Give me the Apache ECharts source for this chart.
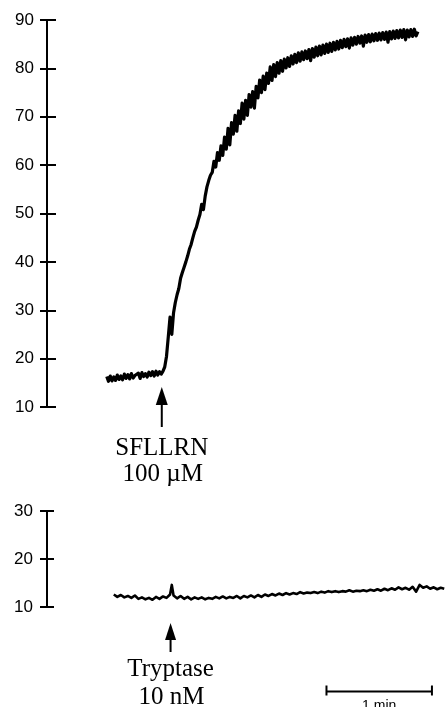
<!DOCTYPE html>
<html><head><meta charset="utf-8">
<script src="https://cdn.jsdelivr.net/npm/echarts@6/dist/echarts.min.js"></script>
<style>html,body{margin:0;padding:0;background:#fff}#c{width:446px;height:707px}</style>
</head><body><div id="c"></div>
<script>
// time in seconds, value in the chart's units
const topTimes = [34,35,36,37,38,39,40,41,42,43,44,45,46,47,48,49,50,51,52,53,54,55,56,57,58,59,60,61,62,63,64,65,66,
67,68,69,70,71,72,73,74,75,76,77,78,79,80,81,82,83,84,85,86,87,88,89,90,
91,92,93,94,95,96,97,98,99,100,101,102,103,104,105,106,107,108,109,110,
111,112,113,114,115,116,117,118,119,120,121,122,123,124,125,126,127,128,129,130,
131,132,133,134,135,136,137,138,139,140,141,142,143,144,145,146,147,148,149,150,
151,152,153,154,155,156,157,158,159,160,161,162,163,164,165,166,167,168,169,170,
171,172,173,174,175,176,177,178,179,180,181,182,183,184,185,186,187,188,189,190,
191,192,193,194,195,196,197,198,199,200,201,202,203,204,205,206,207,208,209,210,211];
const topValues = [16.3,15.3,16.4,15.4,16.2,15.5,16.6,15.7,16.4,15.6,16.8,15.9,16.7,15.8,16.9,16.0,16.5,16.2,17.0,15.9,17.1,16.3,16.9,16.2,17.2,16.5,17.3,16.4,17.4,16.6,17.3,16.8,17.4,
18.3,20.5,24.5,28.6,25.0,29.5,31.6,33.2,34.5,36.6,37.8,38.9,40.0,41.2,42.6,43.6,45.0,46.3,47.2,48.6,49.8,51.9,50.8,53.6,
55.5,56.8,57.9,58.5,60.8,59.6,62.6,61.0,64.0,62.0,
65.8,63.3,67.6,64.2,68.8,66.4,70.3,67.0,71.2,68.6,
72.8,69.5,73.4,70.3,74.6,72.0,75.2,71.8,76.3,73.9,
77.6,75.0,78.4,75.6,79.0,76.9,80.3,77.5,80.8,78.3,
81.2,79.0,81.6,79.4,81.9,80.1,82.2,80.4,82.6,80.9,
82.9,81.2,83.2,81.5,83.4,81.8,83.6,82.0,83.9,81.6,
84.1,82.3,84.4,82.6,84.6,82.8,84.8,83.1,85.0,83.3,
85.2,83.5,85.4,83.8,85.6,84.0,85.8,84.3,86.0,84.5,
86.1,84.2,86.3,84.8,86.4,85.0,86.6,85.2,86.7,84.6,
86.9,85.4,87.0,85.5,87.1,85.7,87.2,85.8,87.3,85.9,
87.4,86.0,87.5,85.4,87.6,86.1,87.7,86.2,87.8,86.3,
87.9,86.4,88.0,85.9,87.9,86.5,88.0,86.6,88.1,86.7,87.6];
const bottomTimes = [38,40,42,44,46,48,50,52,54,56,58,60,62,64,66,68,70,71,
72,74,76,78,80,82,84,86,88,90,92,94,96,98,100,102,104,106,108,110,
112,114,116,118,120,122,124,126,128,130,132,134,136,138,140,142,144,146,148,150,
152,154,156,158,160,162,164,166,168,170,172,174,176,178,180,182,184,186,188,190,
192,194,196,198,200,202,204,206,208,210,212,214,216,218,220,222,224,226];
const bottomValues = [12.6,12.1,12.5,12.0,12.3,11.9,12.4,11.7,12.0,11.6,11.9,11.5,12.1,11.7,12.2,11.9,12.6,14.6,
12.4,11.8,12.3,11.7,12.1,11.6,12.0,11.7,12.0,11.6,11.9,11.7,12.1,11.8,12.2,11.8,12.1,11.9,12.3,11.8,
12.3,12.0,12.4,12.0,12.5,12.1,12.6,12.3,12.7,12.4,12.8,12.5,12.9,12.6,12.9,12.7,13.1,12.8,13.0,12.9,
13.1,12.9,13.2,13.0,13.3,13.1,13.3,13.1,13.3,13.2,13.5,13.2,13.4,13.3,13.5,13.3,13.6,13.4,13.7,13.4,
13.8,13.5,13.9,13.6,14.1,13.7,14.0,13.6,14.2,13.2,14.6,14.0,14.3,13.8,14.1,13.7,14.0,13.8];
const topTicks = [10, 90, 10];      // min, max, step
const bottomTicks = [10, 30, 10];   // min, max, step
const arrowTimes = [65.3, 70.3];
const arrowLabels = [['SFLLRN', '100 \u00b5M'], ['Tryptase', '10 nM']];
const scaleBarStart = 159, scaleBarLength = 60, scaleBarLabel = '1 min';
const timeRange = [0, 227];

const zip = (a, b) => a.map((t, i) => [t, b[i]]);
const labelFont = 'Liberation Sans, Arial, sans-serif';
const serif = 'Liberation Serif, Times New Roman, serif';

function yPair(grid, ticks, offset, margin) {
  const base = {gridIndex: grid, type: 'value', min: ticks[0], max: ticks[1], interval: ticks[2],
    position: 'left', offset: offset, splitLine: {show: false}};
  return [
    Object.assign({}, base, {
      axisLine: {show: true, lineStyle: {color: '#000', width: 2}},
      axisTick: {show: true, length: 7, lineStyle: {color: '#000', width: 2}},
      axisLabel: {margin: margin, fontFamily: labelFont, fontSize: 17, color: '#000'}
    }),
    Object.assign({}, base, {
      axisLine: {show: false},
      axisTick: {show: true, inside: true, length: 9, lineStyle: {color: '#000', width: 2}},
      axisLabel: {show: false}
    })
  ];
}

const option = {
  animation: false,
  backgroundColor: '#fff',
  grid: [
    {left: 47, top: 20, width: 399, height: 387},
    {left: 47, top: 511, width: 399, height: 96}
  ],
  xAxis: [
    {gridIndex: 0, type: 'value', min: timeRange[0], max: timeRange[1], show: false},
    {gridIndex: 1, type: 'value', min: timeRange[0], max: timeRange[1], show: false}
  ],
  yAxis: [].concat(yPair(0, topTicks, 0, 13), yPair(1, bottomTicks, 2, 12)),
  series: [
    {type: 'line', xAxisIndex: 0, yAxisIndex: 0, data: zip(topTimes, topValues), showSymbol: false,
      lineStyle: {color: '#000', width: 3.2, join: 'round'}, clip: false},
    {type: 'line', xAxisIndex: 1, yAxisIndex: 2, data: zip(bottomTimes, bottomValues), showSymbol: false,
      lineStyle: {color: '#000', width: 2.6, join: 'round'}, clip: false}
  ]
};

const chart = echarts.init(document.getElementById('c'), null, {renderer: 'canvas'});
chart.setOption(option);

// annotation layout (pixel y positions)
const arrowLayout = [
  {tip: 387, base: 405, end: 427, headW: 12, line1: 448, line2: 474},
  {tip: 623, base: 640, end: 652, headW: 11, line1: 669, line2: 697}
];
const graphics = [];
arrowTimes.forEach((t, i) => {
  const x = chart.convertToPixel({xAxisIndex: i}, t);
  const L = arrowLayout[i];
  graphics.push({type: 'polygon', shape: {points: [[x, L.tip], [x - L.headW / 2, L.base], [x + L.headW / 2, L.base]]},
    style: {fill: '#000'}});
  graphics.push({type: 'line', shape: {x1: x, y1: L.base - 1, x2: x, y2: L.end}, style: {stroke: '#000', lineWidth: 2}});
  graphics.push({type: 'text', x: x, y: L.line1, style: {text: arrowLabels[i][0], font: '25px ' + serif,
    fill: '#000', align: 'center', verticalAlign: 'middle'}});
  graphics.push({type: 'text', x: x + 1, y: L.line2, style: {text: arrowLabels[i][1], font: '25px ' + serif,
    fill: '#000', align: 'center', verticalAlign: 'middle'}});
});
const sx1 = chart.convertToPixel({xAxisIndex: 1}, scaleBarStart);
const sx2 = chart.convertToPixel({xAxisIndex: 1}, scaleBarStart + scaleBarLength);
const sy = 691.5;
graphics.push({type: 'line', shape: {x1: sx1, y1: sy, x2: sx2, y2: sy}, style: {stroke: '#000', lineWidth: 2}});
graphics.push({type: 'line', shape: {x1: sx1, y1: sy - 6, x2: sx1, y2: sy + 4}, style: {stroke: '#000', lineWidth: 2}});
graphics.push({type: 'line', shape: {x1: sx2, y1: sy - 6, x2: sx2, y2: sy + 4}, style: {stroke: '#000', lineWidth: 2}});
graphics.push({type: 'text', x: (sx1 + sx2) / 2, y: 706, style: {text: scaleBarLabel, font: '14px ' + labelFont,
  fill: '#000', align: 'center', verticalAlign: 'middle'}});
chart.setOption({graphic: graphics});
</script>
</body></html>
